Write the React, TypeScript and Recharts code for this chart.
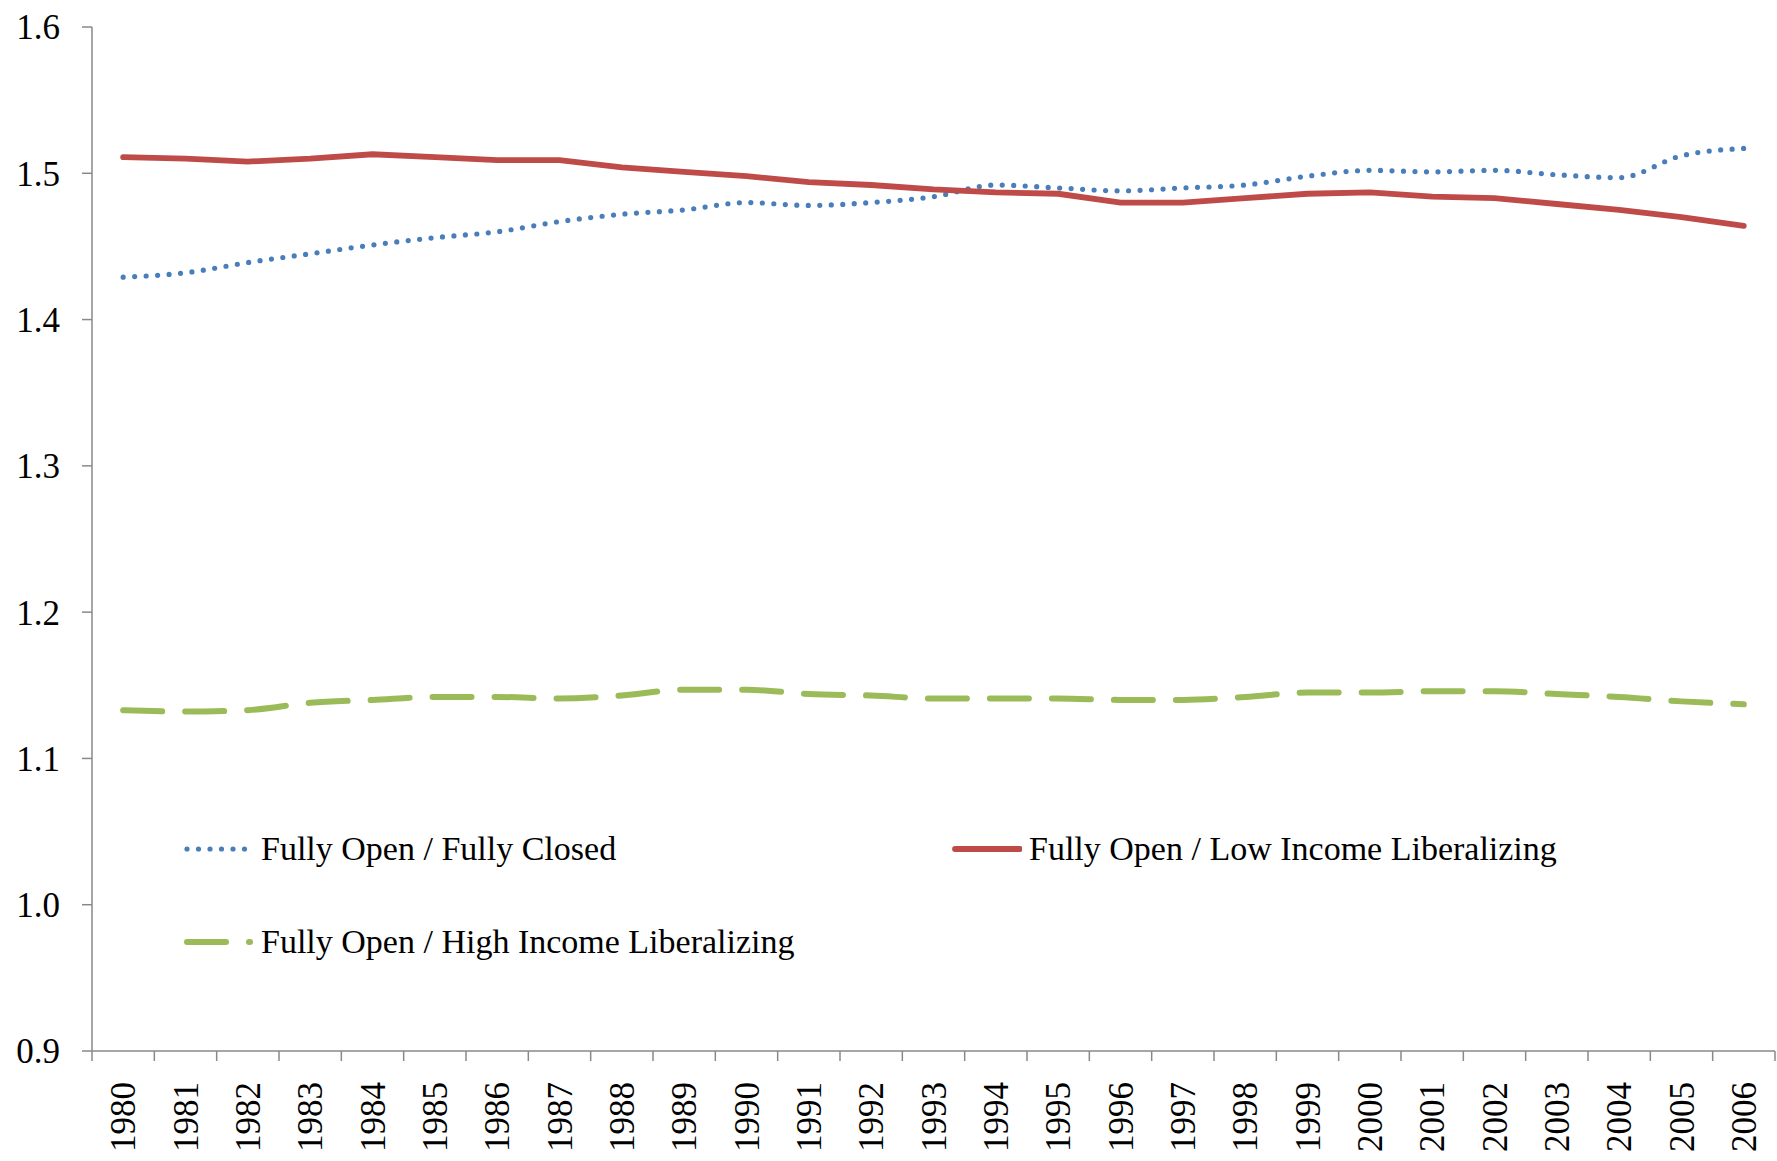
import { LineChart, Line, XAxis, YAxis, Legend } from 'recharts';

const YEARS = [
  '1980', '1981', '1982', '1983', '1984', '1985', '1986', '1987', '1988',
  '1989', '1990', '1991', '1992', '1993', '1994', '1995', '1996', '1997',
  '1998', '1999', '2000', '2001', '2002', '2003', '2004', '2005', '2006',
];

// Fully Open / Fully Closed
const FULLY_CLOSED = [
  1.429, 1.432, 1.439, 1.445, 1.451, 1.456, 1.460, 1.467, 1.472,
  1.475, 1.480, 1.478, 1.480, 1.484, 1.492, 1.490, 1.488, 1.490,
  1.492, 1.498, 1.502, 1.501, 1.502, 1.499, 1.497, 1.512, 1.517,
];

// Fully Open / Low Income Liberalizing
const LOW_INCOME = [
  1.511, 1.510, 1.508, 1.510, 1.513, 1.511, 1.509, 1.509, 1.504,
  1.501, 1.498, 1.494, 1.492, 1.489, 1.487, 1.486, 1.480, 1.480,
  1.483, 1.486, 1.487, 1.484, 1.483, 1.479, 1.475, 1.470, 1.464,
];

// Fully Open / High Income Liberalizing
const HIGH_INCOME = [
  1.133, 1.132, 1.133, 1.138, 1.140, 1.142, 1.142, 1.141, 1.143,
  1.147, 1.147, 1.144, 1.143, 1.141, 1.141, 1.141, 1.140, 1.140,
  1.142, 1.145, 1.145, 1.146, 1.146, 1.144, 1.142, 1.139, 1.137,
];

const Y_TICKS = [0.9, 1.0, 1.1, 1.2, 1.3, 1.4, 1.5, 1.6];

const data = YEARS.map((year, i) => ({
  year,
  closed: FULLY_CLOSED[i],
  low: LOW_INCOME[i],
  high: HIGH_INCOME[i],
}));

const W = 1777;
const H = 1161;
const MARGIN = { top: 27, right: 2, left: 0, bottom: 0 };
const Y_AXIS_W = 92;
const X_AXIS_H = 110;
const PLOT_W = W - MARGIN.left - MARGIN.right - Y_AXIS_W;
const HALF_BAND = PLOT_W / YEARS.length / 2;

const FONT = '"Liberation Serif", "Times New Roman", serif';
const AXIS_COLOR = '#898989';

const SERIES = [
  { key: 'closed', name: 'Fully Open / Fully Closed', color: '#4a7ebb', width: 5.2, dash: '0 11.5', type: 'monotone' as const },
  { key: 'low', name: 'Fully Open / Low Income Liberalizing', color: '#be4b48', width: 5.8, dash: undefined, type: 'linear' as const },
  { key: 'high', name: 'Fully Open / High Income Liberalizing', color: '#9bbb59', width: 6, dash: '39 23', type: 'monotone' as const },
];

function YearTick(props: any) {
  const { x, y, payload, index } = props;
  const ty = y + 31;
  return (
    <g>
      <line x1={x - HALF_BAND} y1={y} x2={x - HALF_BAND} y2={y + 10} stroke={AXIS_COLOR} strokeWidth={1.5} />
      {index === YEARS.length - 1 && (
        <line x1={x + HALF_BAND} y1={y} x2={x + HALF_BAND} y2={y + 10} stroke={AXIS_COLOR} strokeWidth={1.5} />
      )}
      <text
        x={x}
        y={ty}
        dy="0.35em"
        transform={`rotate(-90 ${x} ${ty})`}
        textAnchor="end"
        fill="#000"
        fontSize={35}
        fontFamily={FONT}
      >
        {payload.value}
      </text>
    </g>
  );
}

function LegendBox() {
  return (
    <div
      style={{
        display: 'grid',
        gridTemplateColumns: '768px auto',
        fontFamily: FONT,
        fontSize: 34,
        color: '#000',
      }}
    >
      {SERIES.map((s) => (
        <div key={s.key} style={{ display: 'flex', alignItems: 'center', height: 93 }}>
          <svg width={70} height={12} style={{ flex: 'none' }}>
            <line
              x1={3}
              y1={6}
              x2={s.key === 'low' ? 68 : 66}
              y2={6}
              stroke={s.color}
              strokeWidth={s.width}
              strokeDasharray={s.dash}
              strokeLinecap="round"
            />
          </svg>
          <span style={{ marginLeft: 7, whiteSpace: 'nowrap' }}>{s.name}</span>
        </div>
      ))}
    </div>
  );
}

export default function App() {
  return (
    <div style={{ position: 'absolute', left: 0, top: 0, background: '#fff' }}>
      <LineChart width={W} height={H} data={data} margin={MARGIN}>
        <XAxis
          dataKey="year"
          height={X_AXIS_H}
          interval={0}
          padding={{ left: HALF_BAND, right: HALF_BAND }}
          axisLine={{ stroke: AXIS_COLOR, strokeWidth: 1.5 }}
          tickLine={false}
          tickSize={0}
          tickMargin={0}
          tick={<YearTick />}
        />
        <YAxis
          width={Y_AXIS_W}
          domain={[0.9, 1.6]}
          ticks={Y_TICKS}
          interval={0}
          tickFormatter={(v: number) => v.toFixed(1)}
          tickSize={10}
          tickMargin={22}
          axisLine={{ stroke: AXIS_COLOR, strokeWidth: 1.5 }}
          tickLine={{ stroke: AXIS_COLOR, strokeWidth: 1.5 }}
          tick={{ fill: '#000', fontSize: 35, fontFamily: FONT }}
        />
        <Legend
          layout="horizontal"
          verticalAlign="middle"
          align="center"
          wrapperStyle={{ left: 184, top: 802, width: 1300 }}
          content={() => <LegendBox />}
        />
        {SERIES.map((s) => (
          <Line
            key={s.key}
            type={s.type}
            dataKey={s.key}
            name={s.name}
            stroke={s.color}
            strokeWidth={s.width}
            strokeDasharray={s.dash}
            strokeLinecap="round"
            dot={false}
            activeDot={false}
            isAnimationActive={false}
          />
        ))}
      </LineChart>
    </div>
  );
}
